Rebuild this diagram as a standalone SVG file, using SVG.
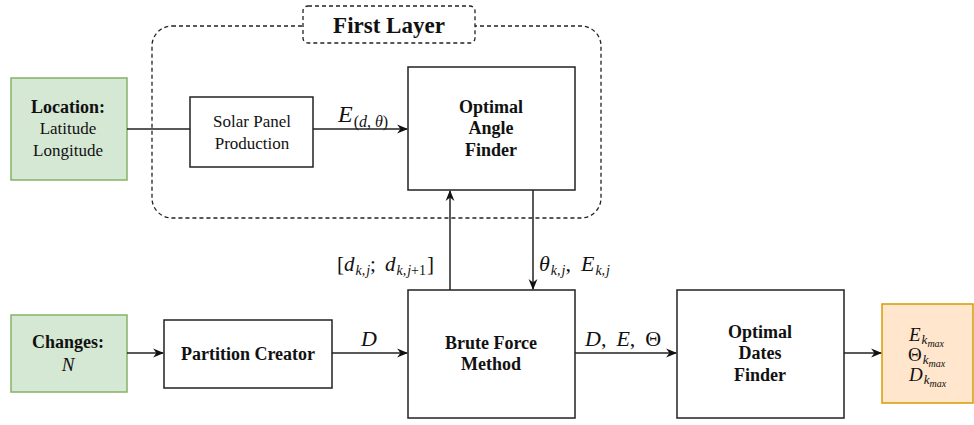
<svg xmlns="http://www.w3.org/2000/svg" width="974" height="425" viewBox="0 0 974 425">
<style>
.box{fill:#fff;stroke:#222;stroke-width:1.5}
.green{fill:#d5e8d4;stroke:#82b366;stroke-width:1.5}
.orange{fill:#ffe6cc;stroke:#d79b00;stroke-width:1.5}
.dash{fill:none;stroke:#222;stroke-width:1.3;stroke-dasharray:4 3}
text{font-family:"Liberation Serif","Times New Roman","DejaVu Serif",serif;fill:#111}
.t{font-size:17px;text-anchor:middle}
.b{font-weight:bold;font-size:18px}
.i{font-style:italic}
.c line{stroke:#222;stroke-width:1.5}
</style>
<defs>
<marker id="ar" viewBox="0 0 10 10" refX="9" refY="5" markerWidth="11" markerHeight="11" markerUnits="userSpaceOnUse" orient="auto">
<path d="M0,1 L10,5 L0,9 L3,5 Z" fill="#111"/>
</marker>
</defs>

<g id="first-layer">
<rect x="152" y="26" width="449" height="192" rx="20" class="dash"/>
<rect x="303" y="6" width="172" height="37" rx="5" class="dash" style="fill:#fff"/>
<text x="389" y="33" class="b" style="font-size:23px;text-anchor:middle">First Layer</text>
</g>

<g id="location">
<rect x="11" y="78" width="116" height="102" class="green"/>
<text x="68" y="113" class="t b">Location:</text>
<text x="68" y="134" class="t">Latitude</text>
<text x="68" y="156" class="t">Longitude</text>
</g>

<g id="solar">
<rect x="190" y="97" width="123" height="70" class="box"/>
<text x="252" y="127" class="t">Solar Panel</text>
<text x="252" y="149" class="t">Production</text>
</g>

<g id="angle">
<rect x="408" y="67" width="167" height="123" class="box"/>
<text x="491" y="113" class="t b">Optimal</text>
<text x="491" y="134" class="t b">Angle</text>
<text x="491" y="156" class="t b">Finder</text>
</g>

<g id="changes">
<rect x="11" y="315" width="116" height="77" class="green"/>
<text x="68" y="348" class="t b">Changes:</text>
<text x="68" y="371" class="t i" style="font-size:19px">N</text>
</g>

<g id="partition">
<rect x="164" y="320" width="168" height="68" class="box"/>
<text x="248" y="360" class="t b">Partition Creator</text>
</g>

<g id="brute">
<rect x="408" y="290" width="167" height="128" class="box"/>
<text x="491" y="349" class="t b">Brute Force</text>
<text x="491" y="370" class="t b">Method</text>
</g>

<g id="dates">
<rect x="677" y="290" width="167" height="128" class="box"/>
<text x="760" y="338" class="t b">Optimal</text>
<text x="760" y="359" class="t b">Dates</text>
<text x="760" y="381" class="t b">Finder</text>
</g>

<g id="output">
<rect x="882" y="304" width="91" height="99" class="orange"/>
<text x="909" y="341" style="font-size:19px"><tspan class="i">E</tspan><tspan class="i" style="font-size:13px" dy="3" dx="1">k</tspan><tspan class="i" style="font-size:10px" dy="3">max</tspan></text>
<text x="908" y="361" style="font-size:19px"><tspan>Θ</tspan><tspan class="i" style="font-size:13px" dy="3" dx="1">k</tspan><tspan class="i" style="font-size:10px" dy="3">max</tspan></text>
<text x="909" y="381" style="font-size:19px"><tspan class="i">D</tspan><tspan class="i" style="font-size:13px" dy="3" dx="1">k</tspan><tspan class="i" style="font-size:10px" dy="3">max</tspan></text>
</g>

<g id="connectors" class="c">
<line x1="127" y1="129" x2="190" y2="129"/>
<line x1="313" y1="129" x2="407" y2="129" marker-end="url(#ar)"/>
<line x1="450" y1="290" x2="450" y2="191" marker-end="url(#ar)"/>
<line x1="533" y1="190" x2="533" y2="289" marker-end="url(#ar)"/>
<line x1="127" y1="353" x2="163" y2="353" marker-end="url(#ar)"/>
<line x1="332" y1="353" x2="407" y2="353" marker-end="url(#ar)"/>
<line x1="575" y1="353" x2="676" y2="353" marker-end="url(#ar)"/>
<line x1="844" y1="353" x2="881" y2="353" marker-end="url(#ar)"/>
</g>

<g id="labels">
<text x="338" y="122" style="font-size:24px"><tspan class="i">E</tspan><tspan style="font-size:16px" dy="5" dx="1">(</tspan><tspan class="i" style="font-size:16px">d</tspan><tspan style="font-size:16px">,</tspan><tspan class="i" style="font-size:16px" dx="4">θ</tspan><tspan style="font-size:16px">)</tspan></text>
<text x="337" y="271" style="font-size:21px"><tspan>[</tspan><tspan class="i">d</tspan><tspan class="i" style="font-size:14px" dy="4" dx="1">k,</tspan><tspan class="i" style="font-size:14px" dx="1">j</tspan><tspan dy="-4">;</tspan><tspan class="i" dx="9">d</tspan><tspan class="i" style="font-size:14px" dy="4" dx="1">k,</tspan><tspan class="i" style="font-size:14px" dx="1">j</tspan><tspan style="font-size:14px">+1</tspan><tspan dy="-4" dx="1">]</tspan></text>
<text x="539" y="271" style="font-size:22px"><tspan class="i">θ</tspan><tspan class="i" style="font-size:14px" dy="4" dx="1">k,</tspan><tspan class="i" style="font-size:14px" dx="1">j</tspan><tspan dy="-4">,</tspan><tspan class="i" dx="10">E</tspan><tspan class="i" style="font-size:14px" dy="4" dx="1">k,</tspan><tspan class="i" style="font-size:14px" dx="1">j</tspan></text>
<text x="361" y="346" style="font-size:22px"><tspan class="i">D</tspan></text>
<text x="585" y="346" style="font-size:22px"><tspan class="i">D</tspan><tspan>,</tspan><tspan class="i" dx="10">E</tspan><tspan>,</tspan><tspan dx="10">Θ</tspan></text>
</g>
</svg>
